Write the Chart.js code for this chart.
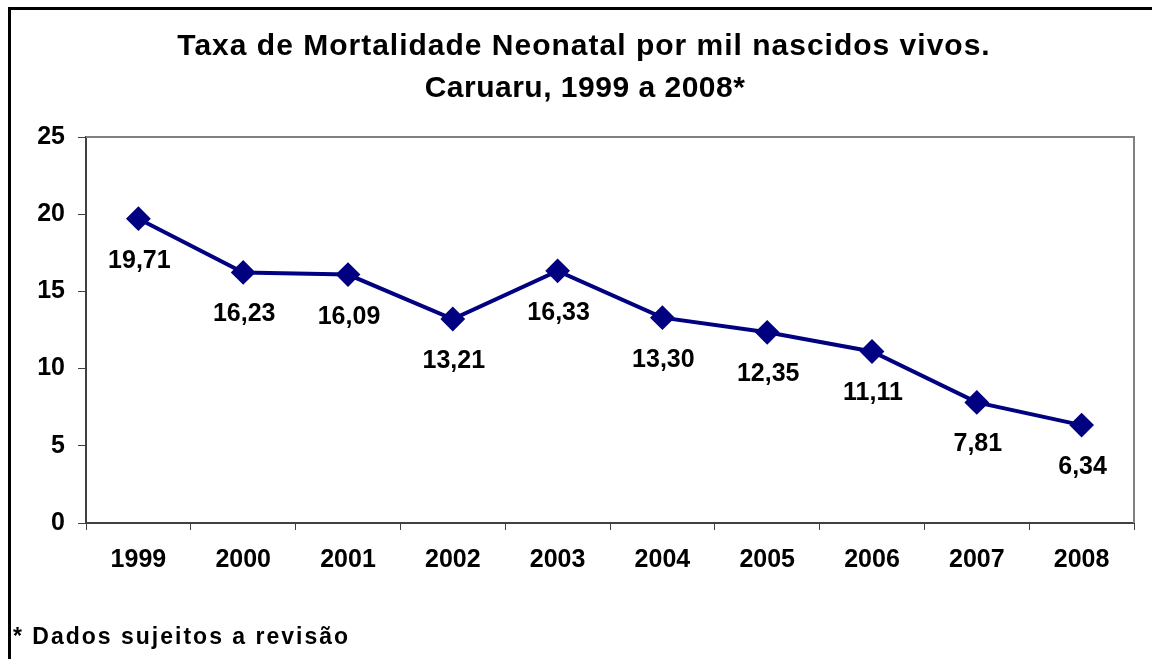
<!DOCTYPE html>
<html>
<head>
<meta charset="utf-8">
<script src="https://cdn.jsdelivr.net/npm/chart.js@4.4.0/dist/chart.umd.min.js"></script>
<style>
  html, body { margin: 0; padding: 0; background: #fff; }
  #wrap { width: 1152px; height: 659px; position: relative; }
</style>
</head>
<body>
<div id="wrap"><canvas id="chart" width="1152" height="659"></canvas></div>
<script>
const years = ['1999', '2000', '2001', '2002', '2003', '2004', '2005', '2006', '2007', '2008'];
const rates = [19.71, 16.23, 16.09, 13.21, 16.33, 13.30, 12.35, 11.11, 7.81, 6.34];
const yTicks = [0, 5, 10, 15, 20, 25];
const titleLines = ['Taxa de Mortalidade Neonatal por mil nascidos vivos.', 'Caruaru, 1999 a 2008*'];
const footnote = '* Dados sujeitos a revisão';

const FONT = '"Liberation Sans", Arial, sans-serif';

// frame, title, plot border, value labels, footnote
const decorPlugin = {
  id: 'decor',
  beforeDraw(chart) {
    const ctx = chart.ctx;
    ctx.save();
    ctx.fillStyle = '#fff';
    ctx.fillRect(0, 0, chart.width, chart.height);
    ctx.strokeStyle = '#000';
    ctx.lineWidth = 3;
    ctx.strokeRect(9.5, 8.5, 1170, 700);
    ctx.restore();
  },
  afterDatasetsDraw(chart) {
    const ctx = chart.ctx;
    const area = chart.chartArea;
    ctx.save();
    // plot area border (top and right)
    ctx.strokeStyle = '#808080';
    ctx.lineWidth = 2;
    ctx.beginPath();
    ctx.moveTo(area.left, area.top);
    ctx.lineTo(area.right, area.top);
    ctx.lineTo(area.right, area.bottom);
    ctx.stroke();

    // title
    ctx.fillStyle = '#000';
    ctx.font = 'bold 30px ' + FONT;
    ctx.textAlign = 'center';
    ctx.textBaseline = 'alphabetic';
    ctx.letterSpacing = '1px';
    ctx.fillText(titleLines[0], 584, 55);
    ctx.letterSpacing = '0.5px';
    ctx.fillText(titleLines[1], 585, 97);

    // value labels under the points
    ctx.letterSpacing = '0px';
    ctx.font = 'bold 25px ' + FONT;
    const meta = chart.getDatasetMeta(0);
    meta.data.forEach((pt, i) => {
      const txt = rates[i].toFixed(2).replace('.', ',');
      ctx.fillText(txt, pt.x + 1, pt.y + 49);
    });

    // footnote
    ctx.textAlign = 'left';
    ctx.font = 'bold 23px ' + FONT;
    ctx.letterSpacing = '2px';
    ctx.fillText(footnote, 13, 644);
    ctx.restore();
  }
};

new Chart(document.getElementById('chart'), {
  type: 'line',
  data: {
    labels: years,
    datasets: [{
      data: rates,
      borderColor: '#000080',
      backgroundColor: '#000080',
      borderWidth: 4,
      pointStyle: 'rectRot',
      pointRadius: 11,
      pointBorderWidth: 2,
      pointBackgroundColor: '#000080',
      pointBorderColor: '#000080',
      tension: 0
    }]
  },
  options: {
    responsive: false,
    animation: false,
    events: [],
    layout: { padding: { top: 137, right: 18, left: 0, bottom: 0 } },
    plugins: {
      legend: { display: false },
      title: { display: false },
      tooltip: { enabled: false }
    },
    scales: {
      x: {
        type: 'category',
        offset: true,
        grid: {
          offset: true,
          drawOnChartArea: false,
          tickLength: 7,
          color: '#404040',
          lineWidth: 1
        },
        border: { color: '#404040', width: 2 },
        ticks: {
          color: '#000',
          font: { family: FONT, size: 25, weight: 'bold' },
          padding: 15,
          maxRotation: 0
        },
        afterFit(scale) { scale.height = 136; }
      },
      y: {
        min: 0,
        max: 25,
        afterBuildTicks(scale) { scale.ticks = yTicks.map(v => ({ value: v })); },
        grid: {
          drawOnChartArea: false,
          tickLength: 8,
          color: '#404040',
          lineWidth: 1
        },
        border: { color: '#404040', width: 2 },
        ticks: {
          color: '#000',
          font: { family: FONT, size: 25, weight: 'bold' },
          padding: 13
        },
        afterFit(scale) { scale.width = 86; }
      }
    }
  },
  plugins: [decorPlugin]
});
</script>
</body>
</html>
